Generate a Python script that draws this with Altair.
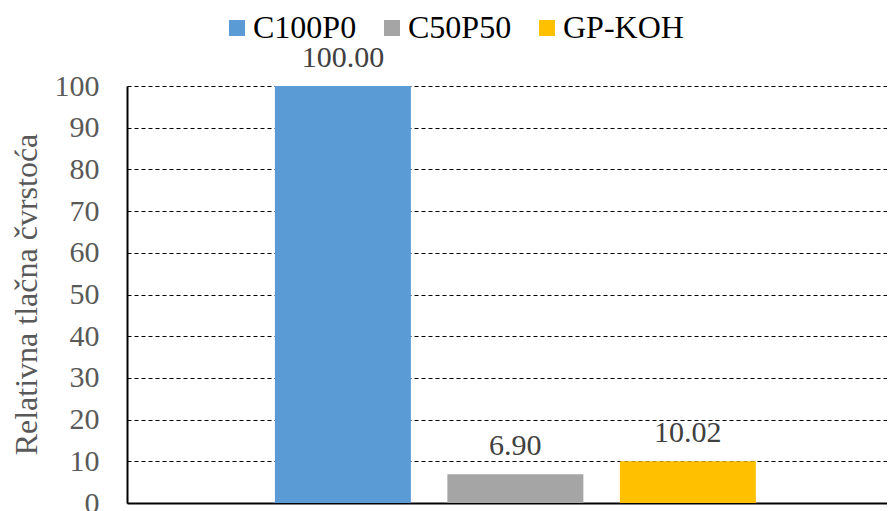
import altair as alt
import pandas as pd

series = ["C100P0", "C50P50", "GP-KOH"]
values = [100.00, 6.90, 10.02]
labels = ["100.00", "6.90", "10.02"]
colors = ["#5B9BD5", "#A5A5A5", "#FFC000"]
y_ticks = [0, 10, 20, 30, 40, 50, 60, 70, 80, 90, 100]

df = pd.DataFrame({"series": series, "value": values, "label": labels})

FONT = "Liberation Serif"

x_enc = alt.X(
    "series:N",
    sort=series,
    scale=alt.Scale(paddingInner=0.2116, paddingOuter=0.809, align=0.530),
    axis=alt.Axis(title=None, labels=False, ticks=False, grid=False,
                  domainColor="black", domainWidth=2),
)

y_enc = alt.Y(
    "value:Q",
    scale=alt.Scale(domain=[0, 100], nice=False),
    axis=alt.Axis(
        values=y_ticks,
        title="Relativna tlačna čvrstoća",
        titleFont=FONT, titleFontSize=32, titleFontWeight="normal",
        titleColor="#595959",
        titleAngle=-90, titleX=-91, titleY=208, titleAlign="center",
        titleBaseline="alphabetic",
        labelFont=FONT, labelFontSize=30, labelColor="#595959",
        labelPadding=28, ticks=False,
        domainColor="black", domainWidth=2,
        grid=True, gridColor="black", gridWidth=1, gridDash=[4, 3],
    ),
)

base = alt.Chart(df)

bars = base.mark_bar().encode(
    x=x_enc,
    y=y_enc,
    color=alt.Color(
        "series:N",
        sort=series,
        scale=alt.Scale(domain=series, range=colors),
        legend=alt.Legend(
            title=None, orient="none", legendX=94, legendY=-74,
            direction="horizontal", symbolType="square", symbolSize=256,
            symbolStrokeWidth=0, labelFont=FONT, labelFontSize=32,
            labelColor="black", columnPadding=19, labelOffset=0, padding=0,
        ),
    ),
)

text = base.mark_text(
    dy=-19, baseline="alphabetic", fontSize=30, font=FONT, color="#404040"
).encode(x=x_enc, y=alt.Y("value:Q"), text="label:N")

chart = (
    alt.layer(bars, text)
    .properties(
        width=760,
        height=417,
        autosize=alt.AutoSizeParams(type="none"),
        padding={"left": 119, "top": 78, "right": 0, "bottom": 12},
    )
    .configure_view(stroke=None)
)

chart.save("out.html", embed_options={"renderer": "svg", "actions": False})
